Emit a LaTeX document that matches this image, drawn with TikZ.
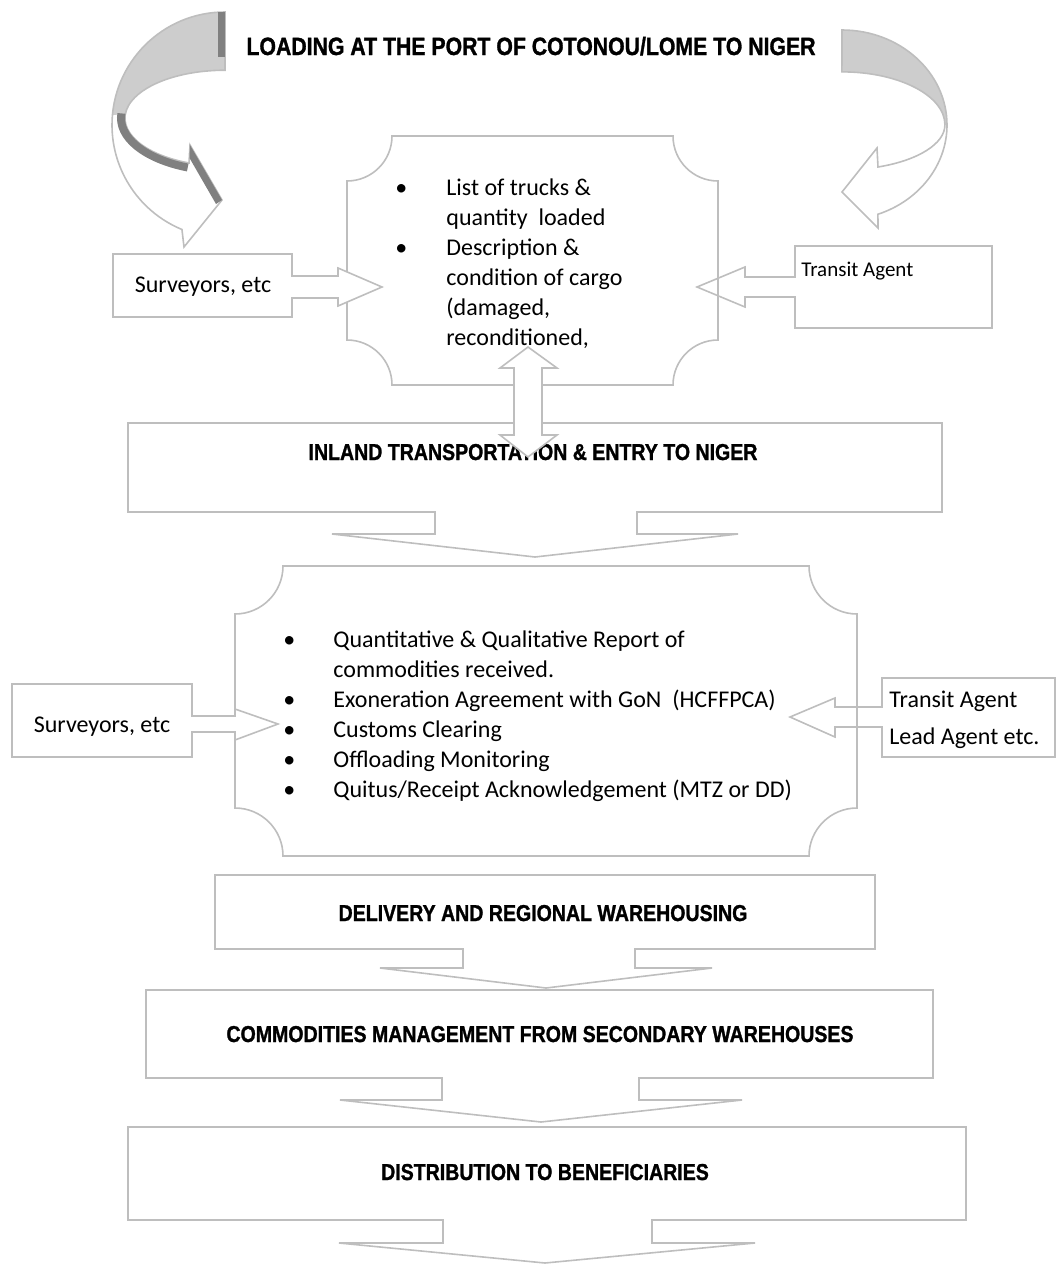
\documentclass[tikz,border=0pt]{standalone}
\usepackage{fontspec}
\setmainfont{Carlito}
\newfontfamily\headfont[FakeStretch=0.85, FakeBold=1.2]{Liberation Sans}
\definecolor{edgegrey}{RGB}{190,190,190}
\definecolor{bandgrey}{RGB}{205,205,205}
\definecolor{stripgrey}{RGB}{128,128,128}
\tikzset{
  hollow/.style={draw=edgegrey, line width=0.8pt},
  covering/.style={draw=edgegrey, line width=0.8pt, fill=white},
  heading/.style={font=\headfont\bfseries\fontsize{11.5}{13}\selectfont, inner sep=0pt},
  bodytext/.style={font=\fontsize{12}{15}\selectfont, inner sep=0pt},
}
\begin{document}
\begin{tikzpicture}[x=0.5pt, y=-0.5pt]
    \useasboundingbox (0,0) rectangle (1056,1264);

    % Fleche courbe gauche
    \fill[bandgrey] (225,12) arc[start angle=270, end angle=185, radius=113]
        -- (125.4,113.8) arc[start angle=185, end angle=270, x radius=100, y radius=48] -- cycle;
    \draw[hollow] (225,12) arc[start angle=270, end angle=112.4, radius=113]
        -- (184,247) -- (222,200) -- (190,145) -- (189,163)
        arc[start angle=111.1, end angle=270, x radius=100, y radius=48] -- cycle;
    \fill[stripgrey] (218,12) rectangle (225,57);
    \draw[stripgrey, line width=4pt] (121.4,113.4) arc[start angle=185, end angle=111, x radius=104, y radius=53];
    \fill[stripgrey] (190,145) -- (222,200) -- (216,204) -- (189.5,158) -- cycle;

    % Fleche courbe droite
    \fill[bandgrey] (842,30) arc[start angle=270, end angle=360, x radius=105, y radius=95]
        -- (945,125) arc[start angle=0, end angle=-90, x radius=103, y radius=53] -- cycle;
    \draw[hollow] (842,30) arc[start angle=270, end angle=430, x radius=105, y radius=95]
        -- (878,228) -- (842,192) -- (877,148) -- (878,167)
        arc[start angle=69.5, end angle=0, x radius=103, y radius=45]
        arc[start angle=0, end angle=-90, x radius=103, y radius=53] -- cycle;

    % Chargement
    \draw[hollow] (392,136) -- (673,136) arc[start angle=180, end angle=90, radius=45]
        -- (718,340) arc[start angle=270, end angle=180, radius=45]
        -- (392,385) arc[start angle=0, end angle=-90, radius=45]
        -- (347,181) arc[start angle=90, end angle=0, radius=45] -- cycle;
    \node[bodytext, anchor=base west] (cargo) at (395,195) {\begin{tabular}[t]{@{}p{25.5pt}@{}l@{}}
        \textbullet & List of trucks \&\\
                    & quantity\ \ loaded\\
        \textbullet & Description \&\\
                    & condition of cargo\\
                    & (damaged,\\
                    & reconditioned,
    \end{tabular}};

    \draw[covering] (113,254) -- (292,254) -- (292,276) -- (338,276) -- (338,268) -- (382,287)
        -- (338,306) -- (338,298) -- (292,298) -- (292,317) -- (113,317) -- cycle;
    \node[bodytext, anchor=mid] (surveyA) at (203,288) {Surveyors, etc};

    \draw[hollow] (992,246) -- (795,246) -- (795,277) -- (745,277) -- (745,267) -- (697,287)
        -- (745,307) -- (745,297) -- (795,297) -- (795,328) -- (992,328) -- cycle;
    \node[bodytext, font=\fontsize{10.5}{12}\selectfont, anchor=mid west] (transitA) at (801,272) {Transit Agent};

    % Transport
    \draw[hollow] (128,423) -- (942,423) -- (942,512) -- (637,512) -- (637,534) -- (738,534)
        -- (535,557) -- (332,534) -- (435,534) -- (435,512) -- (128,512) -- cycle;
    \node[heading, anchor=base] (inland) at (533,460) {INLAND TRANSPORTATION \& ENTRY TO NIGER};

    \draw[covering] (528,347) -- (557,368) -- (542,368) -- (542,435) -- (557,435) -- (528,457)
        -- (500,435) -- (514,435) -- (514,368) -- (500,368) -- cycle;

    % Reception au Niger
    \draw[hollow] (283,566) -- (809,566) arc[start angle=180, end angle=90, radius=48]
        -- (857,808) arc[start angle=270, end angle=180, radius=48]
        -- (283,856) arc[start angle=0, end angle=-90, radius=48]
        -- (235,614) arc[start angle=90, end angle=0, radius=48] -- cycle;
    \node[bodytext, anchor=base west] (checks) at (283,647) {\begin{tabular}[t]{@{}p{25pt}@{}l@{}}
        \textbullet & Quantitative \& Qualitative Report of\\
                    & commodities received.\\
        \textbullet & Exoneration Agreement with GoN\ \ (HCFFPCA)\\
        \textbullet & Customs Clearing\\
        \textbullet & Offloading Monitoring\\
        \textbullet & Quitus/Receipt Acknowledgement (MTZ or DD)
    \end{tabular}};

    \draw[covering] (12,684) -- (192,684) -- (192,716) -- (235,716) -- (235,709) -- (278,724)
        -- (235,740) -- (235,732) -- (192,732) -- (192,757) -- (12,757) -- cycle;
    \node[bodytext, anchor=mid] (surveyB) at (102,728) {Surveyors, etc};

    \draw[hollow] (1055,678) -- (882,678) -- (882,707) -- (835,707) -- (835,698) -- (790,717)
        -- (835,737) -- (835,727) -- (882,727) -- (882,757) -- (1055,757) -- cycle;
    \node[bodytext, anchor=mid west] (transitB) at (889,703) {Transit Agent};
    \node[bodytext, anchor=mid west] (leadB) at (889,740) {Lead Agent etc.};

    % Livraison et distribution
    \draw[hollow] (215,875) -- (875,875) -- (875,949) -- (635,949) -- (635,968) -- (712,968)
        -- (546,988) -- (380,968) -- (463,968) -- (463,949) -- (215,949) -- cycle;
    \node[heading, anchor=base] (delivery) at (543,921) {DELIVERY AND REGIONAL WAREHOUSING};

    \draw[hollow] (146,990) -- (933,990) -- (933,1078) -- (639,1078) -- (639,1100) -- (742,1100)
        -- (541,1122) -- (340,1100) -- (442,1100) -- (442,1078) -- (146,1078) -- cycle;
    \node[heading, anchor=base] (commodities) at (540,1042) {COMMODITIES MANAGEMENT FROM SECONDARY WAREHOUSES};

    \draw[hollow] (128,1127) -- (966,1127) -- (966,1220) -- (652,1220) -- (652,1243) -- (755,1243)
        -- (545,1263) -- (339,1243) -- (443,1243) -- (443,1220) -- (128,1220) -- cycle;
    \node[heading, anchor=base] (distribution) at (545,1180) {DISTRIBUTION TO BENEFICIARIES};

    \node[heading, font=\headfont\bfseries\fontsize{12.5}{14}\selectfont, anchor=base] (title) at (531,55)
        {LOADING AT THE PORT OF COTONOU/LOME TO NIGER};
\end{tikzpicture}
\end{document}
